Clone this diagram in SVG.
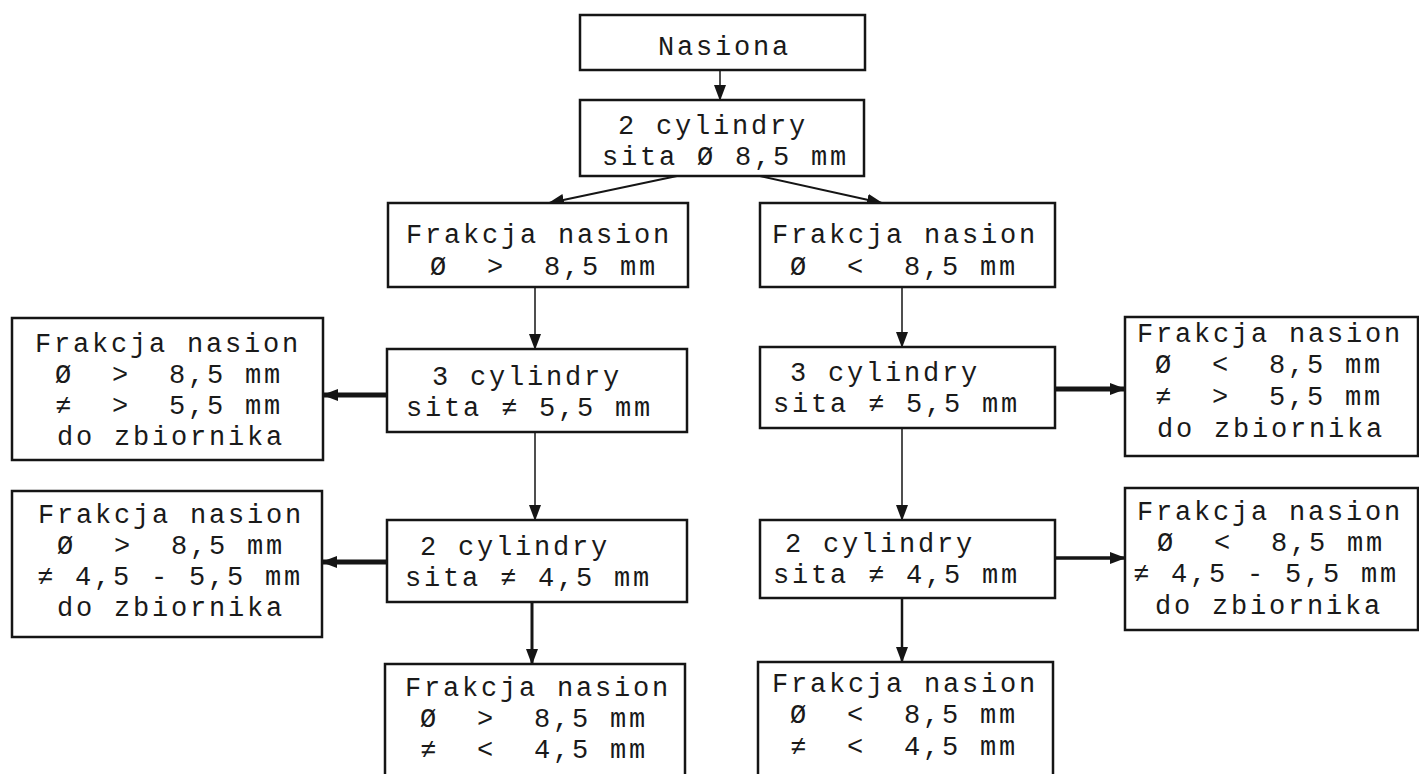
<svg xmlns="http://www.w3.org/2000/svg" width="1419" height="774" viewBox="0 0 1419 774" xml:space="preserve">
<style>
.bx{fill:#fff;stroke:#151515;stroke-width:2.5}
.t{font-family:"Liberation Mono","DejaVu Sans Mono",monospace;font-size:27px;letter-spacing:2.8px;fill:#1a1a1a;white-space:pre}
.c{stroke:#151515;fill:none}
</style>
<defs>
<marker id="ah" markerUnits="userSpaceOnUse" markerWidth="16" markerHeight="12" refX="15" refY="6" orient="auto">
<path d="M0,0 L16,6 L0,12 Z" fill="#151515"/>
</marker>
</defs>
<rect width="1419" height="774" fill="#fff"/>
<g id="connectors">
<line class="c" x1="720" y1="70" x2="720" y2="100" stroke-width="1.5" marker-end="url(#ah)"/>
<line class="c" x1="677" y1="176" x2="549" y2="203" stroke-width="2" marker-end="url(#ah)"/>
<line class="c" x1="760" y1="176" x2="882" y2="203" stroke-width="2" marker-end="url(#ah)"/>
<line class="c" x1="535" y1="287" x2="535" y2="349" stroke-width="1.5" marker-end="url(#ah)"/>
<line class="c" x1="902" y1="287" x2="902" y2="347" stroke-width="1.5" marker-end="url(#ah)"/>
<line class="c" x1="387" y1="395" x2="323" y2="395" stroke-width="5" marker-end="url(#ah)"/>
<line class="c" x1="1055" y1="389" x2="1125" y2="389" stroke-width="5" marker-end="url(#ah)"/>
<line class="c" x1="535" y1="432" x2="535" y2="520" stroke-width="1.5" marker-end="url(#ah)"/>
<line class="c" x1="902" y1="428" x2="902" y2="520" stroke-width="1.5" marker-end="url(#ah)"/>
<line class="c" x1="387" y1="562" x2="322" y2="562" stroke-width="5" marker-end="url(#ah)"/>
<line class="c" x1="1055" y1="558" x2="1125" y2="558" stroke-width="3.5" marker-end="url(#ah)"/>
<line class="c" x1="532" y1="602" x2="532" y2="664" stroke-width="3" marker-end="url(#ah)"/>
<line class="c" x1="902" y1="598" x2="902" y2="662" stroke-width="2.5" marker-end="url(#ah)"/>
</g>
<g id="n-nasiona">
<rect class="bx" x="580" y="15" width="285" height="55"/>
<text class="t" x="658" y="55">Nasiona</text>
</g>
<g id="n-2cyl-top">
<rect class="bx" x="580" y="100" width="284" height="76"/>
<text class="t" x="618" y="134">2 cylindry</text>
<text class="t" x="602" y="165">sita Ø 8,5 mm</text>
</g>
<g id="n-frak-left">
<rect class="bx" x="388" y="203" width="300" height="84"/>
<text class="t" x="406" y="243">Frakcja nasion</text>
<text class="t" x="430" y="275">Ø  &gt;  8,5 mm</text>
</g>
<g id="n-frak-right">
<rect class="bx" x="760" y="203" width="295" height="84"/>
<text class="t" x="772" y="243">Frakcja nasion</text>
<text class="t" x="790" y="275">Ø  &lt;  8,5 mm</text>
</g>
<g id="n-left1">
<rect class="bx" x="12" y="318" width="311" height="142"/>
<text class="t" x="35" y="352">Frakcja nasion</text>
<text class="t" x="55" y="383">Ø  &gt;  8,5 mm</text>
<text class="t" x="55" y="414">≠  &gt;  5,5 mm</text>
<text class="t" x="57" y="445">do zbiornika</text>
</g>
<g id="n-3cyl-left">
<rect class="bx" x="387" y="349" width="300" height="83"/>
<text class="t" x="432" y="385">3 cylindry</text>
<text class="t" x="406" y="416">sita ≠ 5,5 mm</text>
</g>
<g id="n-3cyl-right">
<rect class="bx" x="760" y="347" width="295" height="81"/>
<text class="t" x="790" y="381">3 cylindry</text>
<text class="t" x="773" y="412">sita ≠ 5,5 mm</text>
</g>
<g id="n-right1">
<rect class="bx" x="1125" y="317" width="293" height="139"/>
<text class="t" x="1137" y="342">Frakcja nasion</text>
<text class="t" x="1155" y="373">Ø  &lt;  8,5 mm</text>
<text class="t" x="1155" y="405">≠  &gt;  5,5 mm</text>
<text class="t" x="1157" y="437">do zbiornika</text>
</g>
<g id="n-left2">
<rect class="bx" x="12" y="491" width="310" height="146"/>
<text class="t" x="38" y="523">Frakcja nasion</text>
<text class="t" x="57" y="554">Ø  &gt;  8,5 mm</text>
<text class="t" x="37" y="585">≠ 4,5 - 5,5 mm</text>
<text class="t" x="57" y="616">do zbiornika</text>
</g>
<g id="n-2cyl-left">
<rect class="bx" x="387" y="520" width="300" height="82"/>
<text class="t" x="420" y="555">2 cylindry</text>
<text class="t" x="405" y="586">sita ≠ 4,5 mm</text>
</g>
<g id="n-2cyl-right">
<rect class="bx" x="760" y="520" width="295" height="78"/>
<text class="t" x="785" y="552">2 cylindry</text>
<text class="t" x="773" y="583">sita ≠ 4,5 mm</text>
</g>
<g id="n-right2">
<rect class="bx" x="1125" y="488" width="293" height="142"/>
<text class="t" x="1137" y="520">Frakcja nasion</text>
<text class="t" x="1157" y="551">Ø  &lt;  8,5 mm</text>
<text class="t" x="1133" y="582">≠ 4,5 - 5,5 mm</text>
<text class="t" x="1155" y="614">do zbiornika</text>
</g>
<g id="n-bottom-left">
<rect class="bx" x="385" y="664" width="300" height="130"/>
<text class="t" x="405" y="696">Frakcja nasion</text>
<text class="t" x="420" y="727">Ø  &gt;  8,5 mm</text>
<text class="t" x="420" y="758">≠  &lt;  4,5 mm</text>
</g>
<g id="n-bottom-right">
<rect class="bx" x="758" y="662" width="295" height="130"/>
<text class="t" x="772" y="692">Frakcja nasion</text>
<text class="t" x="790" y="723">Ø  &lt;  8,5 mm</text>
<text class="t" x="790" y="755">≠  &lt;  4,5 mm</text>
</g>
</svg>
